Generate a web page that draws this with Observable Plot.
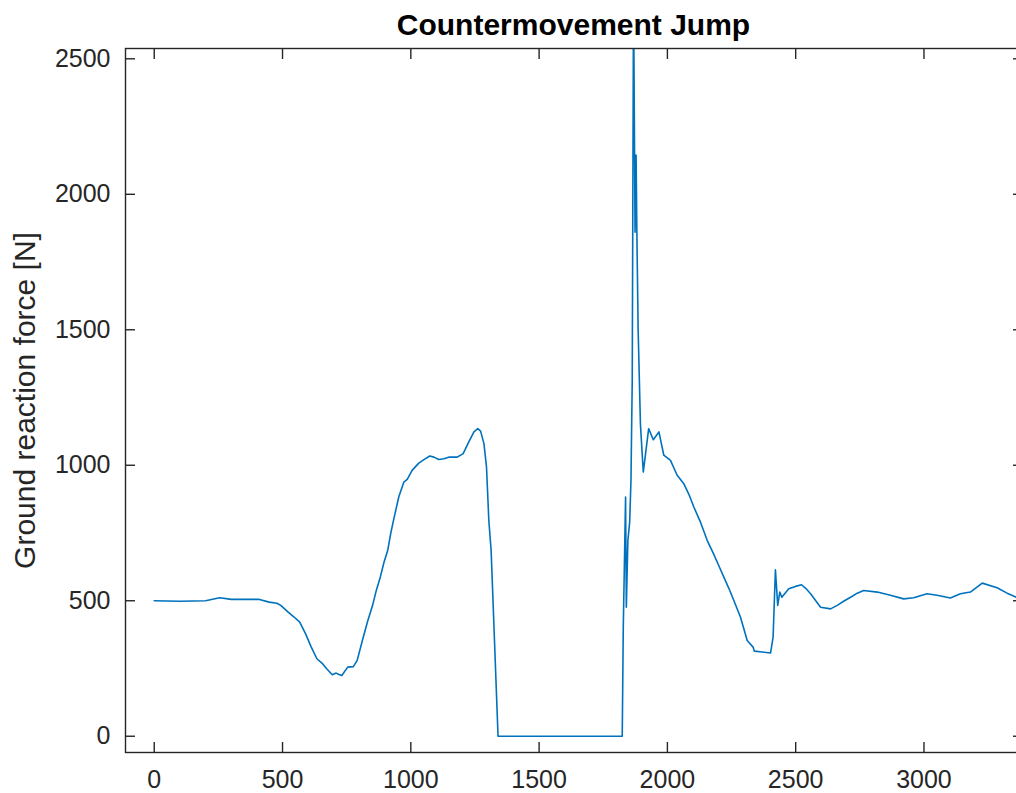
<!DOCTYPE html>
<html><head><meta charset="utf-8">
<script src="https://cdn.jsdelivr.net/npm/d3@7"></script>
<script src="https://cdn.jsdelivr.net/npm/@observablehq/plot@0.6"></script>
<style>
body{margin:0;overflow:hidden;background:#fff;font-family:"Liberation Sans",Arial,sans-serif;}
#wrap{position:relative;width:1030px;}
#title{position:relative;height:40px;width:1030px;}
#title div{position:absolute;left:125px;width:897px;top:8px;text-align:center;font-weight:bold;font-size:30px;color:#000;line-height:34px;white-space:nowrap}
svg{display:block;overflow:visible}
</style></head>
<body>
<div id="wrap">
<div id="title"><div>Countermovement Jump</div></div>
<div id="chart"></div>
</div>
<script>
// Sample index (frame) and ground reaction force [N]
const frames = [0, 100, 200, 255, 300, 410, 448, 478, 493, 522, 545, 567, 590, 612, 634, 657, 672, 694, 709, 720, 731, 754, 776, 791, 813, 832, 851, 866, 881, 895, 910, 922, 934, 953, 973, 986, 1005, 1031, 1051, 1074, 1090, 1109, 1129, 1148, 1181, 1204, 1226, 1246, 1261, 1272, 1285, 1295, 1304, 1313, 1340, 1824, 1828, 1837, 1840, 1846, 1853, 1858, 1863, 1868, 1874, 1878, 1881, 1886, 1895, 1906, 1927, 1945, 1967, 1986, 2012, 2038, 2064, 2085, 2103, 2129, 2155, 2180, 2200, 2220, 2240, 2259, 2285, 2311, 2334, 2339, 2369, 2402, 2412, 2421, 2430, 2438, 2446, 2473, 2499, 2523, 2540, 2558, 2597, 2636, 2662, 2690, 2714, 2740, 2765, 2818, 2869, 2921, 2960, 3012, 3051, 3103, 3142, 3181, 3227, 3285, 3324, 3360, 3384];
const force = [500, 498, 500, 511, 505, 505, 495, 491, 483, 458, 440, 421, 378, 329, 286, 267, 249, 227, 233, 228, 224, 255, 257, 280, 360, 425, 483, 540, 587, 640, 686, 750, 803, 883, 938, 948, 981, 1008, 1021, 1034, 1030, 1021, 1024, 1030, 1030, 1043, 1086, 1123, 1135, 1126, 1080, 993, 797, 686, 0, 0, 397, 883, 476, 723, 790, 944, 1314, 2750, 1860, 2145, 1860, 1500, 1150, 975, 1135, 1094, 1123, 1037, 1018, 963, 932, 890, 846, 790, 723, 673, 630, 587, 545, 501, 439, 353, 329, 314, 311, 307, 366, 614, 483, 532, 513, 544, 553, 559, 545, 526, 476, 470, 483, 500, 513, 528, 538, 532, 520, 507, 511, 526, 520, 510, 526, 532, 565, 548, 528, 513, 510];
const xTicks = [0, 500, 1000, 1500, 2000, 2500, 3000];
const yTicks = [0, 500, 1000, 1500, 2000, 2500];
const xLimits = [-112, 3384];
const yLimits = [-60, 2538];

const data = frames.map((f, i) => ({frame: f, force: force[i]}));
const axisColor = "#262626";

const plot = Plot.plot({
  width: 1030,
  height: 753,
  marginTop: 8,
  marginBottom: 41,
  marginLeft: 125,
  marginRight: 8,
  style: {fontFamily: "'Liberation Sans', Arial, sans-serif", background: "#fff"},
  x: {domain: xLimits},
  y: {domain: yLimits},
  marks: [
    Plot.line(data, {x: "frame", y: "force", stroke: "#0072BD", strokeWidth: 1.6, clip: true}),
    Plot.frame({stroke: axisColor, strokeWidth: 1.4}),
    Plot.axisX({anchor: "bottom", ticks: xTicks, tickSize: -10, tickPadding: 28, tickFormat: "d", fontSize: 25, color: axisColor, strokeWidth: 1.4, label: null}),
    Plot.axisX({anchor: "top", ticks: xTicks, tickSize: -10, tickFormat: () => "", color: axisColor, strokeWidth: 1.4, label: null}),
    Plot.axisY({anchor: "left", ticks: yTicks, tickSize: -10, tickPadding: 25, tickFormat: "d", fontSize: 25, color: axisColor, strokeWidth: 1.4,
      label: "Ground reaction force [N]", labelAnchor: "center", labelArrow: "none", labelOffset: 112}),
    Plot.axisY({anchor: "right", ticks: yTicks, tickSize: -10, tickFormat: () => "", color: axisColor, strokeWidth: 1.4, label: null})
  ]
});
document.getElementById("chart").appendChild(plot);
d3.select(plot).selectAll('g[aria-label="y-axis label"] text').attr("font-size", 30);
d3.select(plot).select('g[aria-label="y-axis label"]').attr("font-size", 30);
</script>
</body></html>
